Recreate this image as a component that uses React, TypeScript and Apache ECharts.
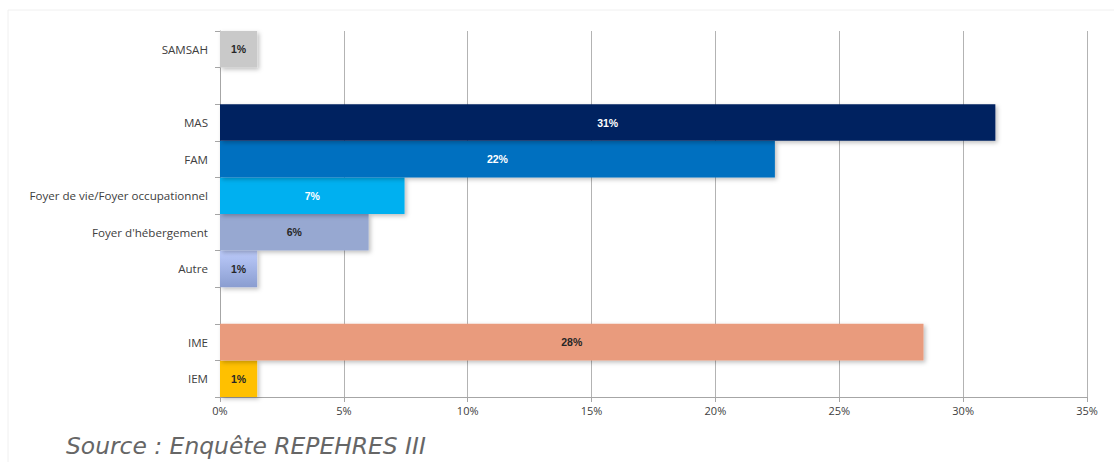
import React, { useEffect, useRef } from "react";
import * as echarts from "echarts";

const categories = [
  "IEM",
  "IME",
  "",
  "Autre",
  "Foyer d'hébergement",
  "Foyer de vie/Foyer occupationnel",
  "FAM",
  "MAS",
  " ",
  "SAMSAH",
];
const values: (number | null)[] = [1.5, 28.4, null, 1.5, 6.0, 7.45, 22.4, 31.3, null, 1.5];
const valueLabels = ["1%", "28%", "", "1%", "6%", "7%", "22%", "31%", "", "1%"];
const barColors: any[] = [
  "#ffc000",
  "#e99b7d",
  "#ffffff",
  {
    type: "linear", x: 0, y: 0, x2: 0, y2: 1,
    colorStops: [{ offset: 0, color: "#bccbfb" }, { offset: 1, color: "#8a9dd0" }],
  },
  "#97a8d1",
  "#00b0f0",
  "#0070c0",
  "#002060",
  "#ffffff",
  "#c9c9c9",
];
const labelColors = ["#262626", "#262626", "#262626", "#262626", "#262626", "#ffffff", "#ffffff", "#ffffff", "#262626", "#262626"];
const xTicks = [0, 5, 10, 15, 20, 25, 30, 35];

export default function App() {
  const ref = useRef<HTMLDivElement>(null);
  useEffect(() => {
    const chart = echarts.init(ref.current!, null, { renderer: "svg" });
    chart.setOption({
      animation: false,
      backgroundColor: "#ffffff",
      grid: { left: 220, right: 27, top: 31, bottom: 65, containLabel: false },
      xAxis: {
        type: "value",
        min: xTicks[0],
        max: xTicks[xTicks.length - 1],
        interval: 5,
        axisLine: { show: true, lineStyle: { color: "#a6a6a6", width: 1 } },
        axisTick: { show: true, length: 5, lineStyle: { color: "#a6a6a6" } },
        splitLine: { show: true, lineStyle: { color: "#b3b3b3", width: 1 } },
        axisLabel: {
          formatter: "{value}%",
          color: "#404040",
          fontFamily: "Open Sans",
          fontSize: 11,
          margin: 8,
        },
      },
      yAxis: {
        type: "category",
        data: categories,
        axisLine: { show: true, lineStyle: { color: "#a6a6a6", width: 1 } },
        axisTick: { show: true, length: 5, alignWithLabel: false, lineStyle: { color: "#a6a6a6" } },
        axisLabel: {
          color: "#404040",
          fontFamily: "Open Sans",
          fontSize: 11.6,
          margin: 12,
          interval: 0,
        },
      },
      series: [
        {
          type: "bar",
          barWidth: "100%",
          barCategoryGap: 0,
          data: values.map((v, i) => ({
            value: v,
            itemStyle: {
              color: barColors[i],
              shadowColor: "rgba(0,0,0,0.25)",
              shadowBlur: 4,
              shadowOffsetX: 2,
              shadowOffsetY: 2,
            },
            label: {
              show: v !== null,
              position: "inside",
              formatter: valueLabels[i],
              color: labelColors[i],
              fontWeight: "bold",
              fontFamily: "Liberation Sans",
              fontSize: 10.5,
            },
          })),
        },
      ],
      graphic: [
        {
          type: "rect",
          z: -10,
          shape: { x: 8, y: 10, width: 1120, height: 470 },
          style: { fill: "none", stroke: "#f0f0f0", lineWidth: 1 },
        },
        {
          type: "text",
          left: 66,
          top: 434,
          style: {
            text: "Source : Enquête REPEHRES III",
            font: "italic 200 23.4px 'DejaVu Sans'",
            fill: "#666666",
          },
        },
      ],
    });
    return () => chart.dispose();
  }, []);
  return (
    <div
      ref={ref}
      style={{ position: "fixed", left: 0, top: 0, width: 1114, height: 462 }}
    />
  );
}
